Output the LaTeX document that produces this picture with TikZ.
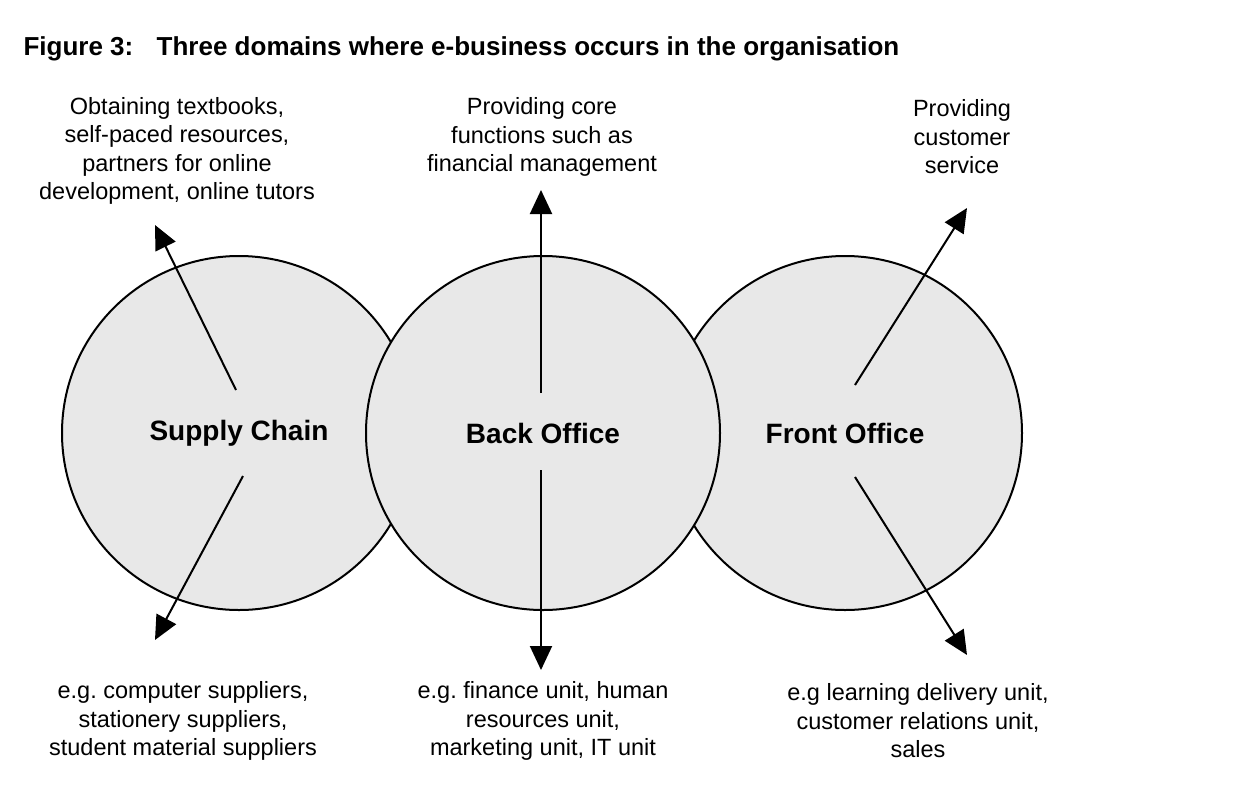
\documentclass[tikz,border=0pt]{standalone}
\usepackage{fontspec}
\setmainfont{Liberation Sans}
\usetikzlibrary{arrows.meta}
\frenchspacing
\begin{document}
\begin{tikzpicture}[x=1pt,y=-1pt,
  dombox/.style={circle,draw=black,line width=2pt,fill=black!9,minimum size=354pt,inner sep=0pt,font=\fontsize{28}{32}\selectfont\bfseries},
  note/.style={align=center,font=\fontsize{23.5}{28.5}\selectfont},
  link/.style={line width=2pt,-{Triangle[width=22pt,length=24pt]}}]
  \useasboundingbox (0,0) rectangle (1248,801);

  % Título
  \node[anchor=base west,font=\fontsize{26}{30}\selectfont\bfseries] (title) at (20,55) {Figure 3:\hspace{0.9em}Three domains where e-business occurs in the organisation};

  % Dominios
  \node[dombox] (sc) at (239,433) {Supply Chain};
  \node[dombox] (fo) at (845,433) {Front Office};
  \node[dombox] (bo) at (543,433) {Back Office};

  % Textos
  \node[note] (scup) at (177,151) {Obtaining textbooks,\\self-paced resources,\\partners for online\\development, online tutors};
  \node[note] (boup) at (542,137) {Providing core\\functions such as\\financial management};
  \node[note] (foup) at (962,137) {Providing\\customer\\service};
  \node[note] (scdn) at (183,721) {e.g. computer suppliers,\\stationery suppliers,\\student material suppliers};
  \node[note] (bodn) at (543,721) {e.g. finance unit, human\\resources unit,\\marketing unit, IT unit};
  \node[note] (fodn) at (918,721) {e.g learning delivery unit,\\customer relations unit,\\sales};

  % Puntos de las flechas
  \coordinate (scu0) at (236,390);  \coordinate (scu1) at (155,225);
  \coordinate (bou0) at (541,393);  \coordinate (bou1) at (541,190);
  \coordinate (fou0) at (855,385);  \coordinate (fou1) at (967,208);
  \coordinate (scd0) at (243,476);  \coordinate (scd1) at (155,640);
  \coordinate (bod0) at (541,470);  \coordinate (bod1) at (541,670);
  \coordinate (fod0) at (855,477);  \coordinate (fod1) at (967,655);

  % Flechas
  \foreach \from/\to in {scu0/scu1, bou0/bou1, fou0/fou1, scd0/scd1, bod0/bod1, fod0/fod1}
    \draw[link] (\from) -- (\to);
\end{tikzpicture}
\end{document}
